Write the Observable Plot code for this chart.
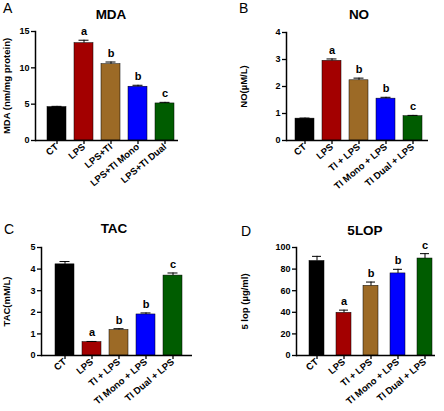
<!DOCTYPE html>
<html>
<head>
<meta charset="utf-8">
<script src="https://cdn.jsdelivr.net/npm/d3@7"></script>
<script src="https://cdn.jsdelivr.net/npm/@observablehq/plot@0.6"></script>
<style>
  html, body { margin: 0; padding: 0; background: #fff; }
  #fig { position: relative; width: 444px; height: 411px; overflow: hidden;
         font-family: "Liberation Sans", Arial, sans-serif; color: #000; }
  .panel { position: absolute; }
  .letter { position: absolute; font-size: 14px; line-height: 1; }
  .title { position: absolute; font-size: 13.5px; font-weight: bold; line-height: 1;
           transform: translateX(-50%); white-space: nowrap; }
</style>
</head>
<body>
<div id="fig"></div>
<script>
// group labels
var groupsA = ["CT", "LPS", "LPS+TI", "LPS+TI Mono", "LPS+TI Dual"];
var groupsB = ["CT", "LPS", "TI + LPS", "TI Mono + LPS", "TI Dual + LPS"];

// bar colours, one per group
var barColors = ["#000000", "#a30000", "#9c6a26", "#0000ff", "#005c00"];

// significance letters
var sigLetters = ["", "a", "b", "b", "c"];

// MDA (nm/mg protein)
var mdaMean = [4.6, 13.4, 10.5, 7.4, 5.1];
var mdaErr = [0.1, 0.4, 0.3, 0.2, 0.15];

// NO (uM/L)
var noMean = [0.81, 2.95, 2.23, 1.55, 0.9];
var noErr = [0.02, 0.07, 0.08, 0.05, 0.03];

// TAC (mM/L)
var tacMean = [4.22, 0.62, 1.18, 1.9, 3.7];
var tacErr = [0.13, 0.03, 0.06, 0.07, 0.12];

// 5LOP (ug/ml)
var lopMean = [87.5, 39.5, 64.5, 76, 89.8];
var lopErr = [4.3, 2.5, 3.5, 3.8, 4.5];

// y ticks
var ticksA = [0, 5, 10, 15];
var ticksB = [0, 1, 2, 3, 4];
var ticksC = [0, 1, 2, 3, 4, 5];
var ticksD = [0, 20, 40, 60, 80, 100];

var fig = document.getElementById("fig");

function rows(groups, means, errs) {
  return groups.map(function(g, i) {
    return {group: g, value: means[i], err: errs[i], letter: sigLetters[i], color: barColors[i]};
  });
}

function renderPanel(p) {
  var data = rows(p.groups, p.means, p.errs);
  var top = function(d) { return d.value + d.err; };

  var plot = Plot.plot({
    width: 222,
    height: p.height,
    marginLeft: p.ml,
    marginRight: p.mr,
    marginTop: p.mt,
    marginBottom: p.mb,
    style: {fontFamily: '"Liberation Sans", Arial, sans-serif', fontWeight: "bold",
            fontSize: "8.5px", color: "#000", background: "transparent", overflow: "visible"},
    x: {domain: p.groups, paddingInner: p.pad, paddingOuter: p.pad / 2, align: 0.5,
        insetLeft: p.il, insetRight: p.ir},
    y: {domain: [0, p.max]},
    color: {type: "identity"},
    marks: [
      Plot.barY(data, {x: "group", y: "value", fill: "color", stroke: "#000", strokeWidth: 0.5}),
      Plot.ruleX(data, {x: "group", y1: "value", y2: top, stroke: "#000", strokeWidth: 1}),
      Plot.tickY(data, {x: "group", y: top, stroke: "#000", strokeWidth: 1,
                        insetLeft: p.cap, insetRight: p.cap}),
      Plot.text(data, {x: "group", y: top, text: "letter", dy: -5, lineAnchor: "bottom",
                       fontSize: 11}),
      Plot.axisY({ticks: p.ticks, tickFormat: d3.format("d"), tickSize: 4, tickPadding: 2,
                  label: null, strokeWidth: 1.3, fontSize: 9}),
      Plot.axisX({tickSize: 4, tickPadding: 1, tickRotate: -40, label: null, strokeWidth: 1.3,
                  fontSize: 9.5}),
      Plot.ruleY([0], {stroke: "#000", strokeWidth: 1.5}),
      Plot.frame({anchor: "left", stroke: "#000", strokeWidth: 1.5}),
      Plot.text([p.ylabel], {frameAnchor: "left", rotate: -90, dx: p.ldx, textAnchor: "middle",
                             lineAnchor: "top", fontSize: 9.5})
    ]
  });

  var div = document.createElement("div");
  div.className = "panel";
  div.style.left = p.left + "px";
  div.style.top = p.top + "px";
  div.appendChild(plot);
  fig.appendChild(div);

  var letter = document.createElement("div");
  letter.className = "letter";
  letter.style.left = p.letterX + "px";
  letter.style.top = p.letterY + "px";
  letter.textContent = p.letter;
  fig.appendChild(letter);

  var title = document.createElement("div");
  title.className = "title";
  title.style.left = p.titleX + "px";
  title.style.top = p.titleY + "px";
  title.textContent = p.title;
  fig.appendChild(title);
}

renderPanel({letter: "A", title: "MDA", ylabel: "MDA (nm/mg protein)",
  groups: groupsA, means: mdaMean, errs: mdaErr, ticks: ticksA, max: 15,
  left: 0, top: 0, height: 205, ml: 35, mr: 44, mt: 31, mb: 65, il: 6.8, ir: -0.8,
  pad: 0.31, cap: 4.5, ldx: -32, letterX: 3, letterY: 1, titleX: 111, titleY: 8});

renderPanel({letter: "B", title: "NO", ylabel: "NO(\u00b5M/L)",
  groups: groupsB, means: noMean, errs: noErr, ticks: ticksB, max: 4,
  left: 222, top: 0, height: 205, ml: 64, mr: 16, mt: 32, mb: 65, il: 4.3, ir: 0.8,
  pad: 0.31, cap: 4.5, ldx: -46, letterX: 239, letterY: 1, titleX: 359, titleY: 8});

renderPanel({letter: "C", title: "TAC", ylabel: "TAC(mM/L)",
  groups: groupsB, means: tacMean, errs: tacErr, ticks: ticksC, max: 5,
  left: 0, top: 205, height: 206, ml: 41, mr: 30, mt: 42, mb: 56, il: 8.2, ir: 4.7,
  pad: 0.31, cap: 4.5, ldx: -38, letterX: 4, letterY: 222, titleX: 114, titleY: 222});

renderPanel({letter: "D", title: "5LOP", ylabel: "5 lop (\u00b5g/ml)",
  groups: groupsB, means: lopMean, errs: lopErr, ticks: ticksD, max: 100,
  left: 222, top: 205, height: 206, ml: 74, mr: 9, mt: 42, mb: 56, il: 5.3, ir: -3.8,
  pad: 0.45, cap: 3, ldx: -55, letterX: 241, letterY: 224, titleX: 365, titleY: 224});
</script>
</body>
</html>
